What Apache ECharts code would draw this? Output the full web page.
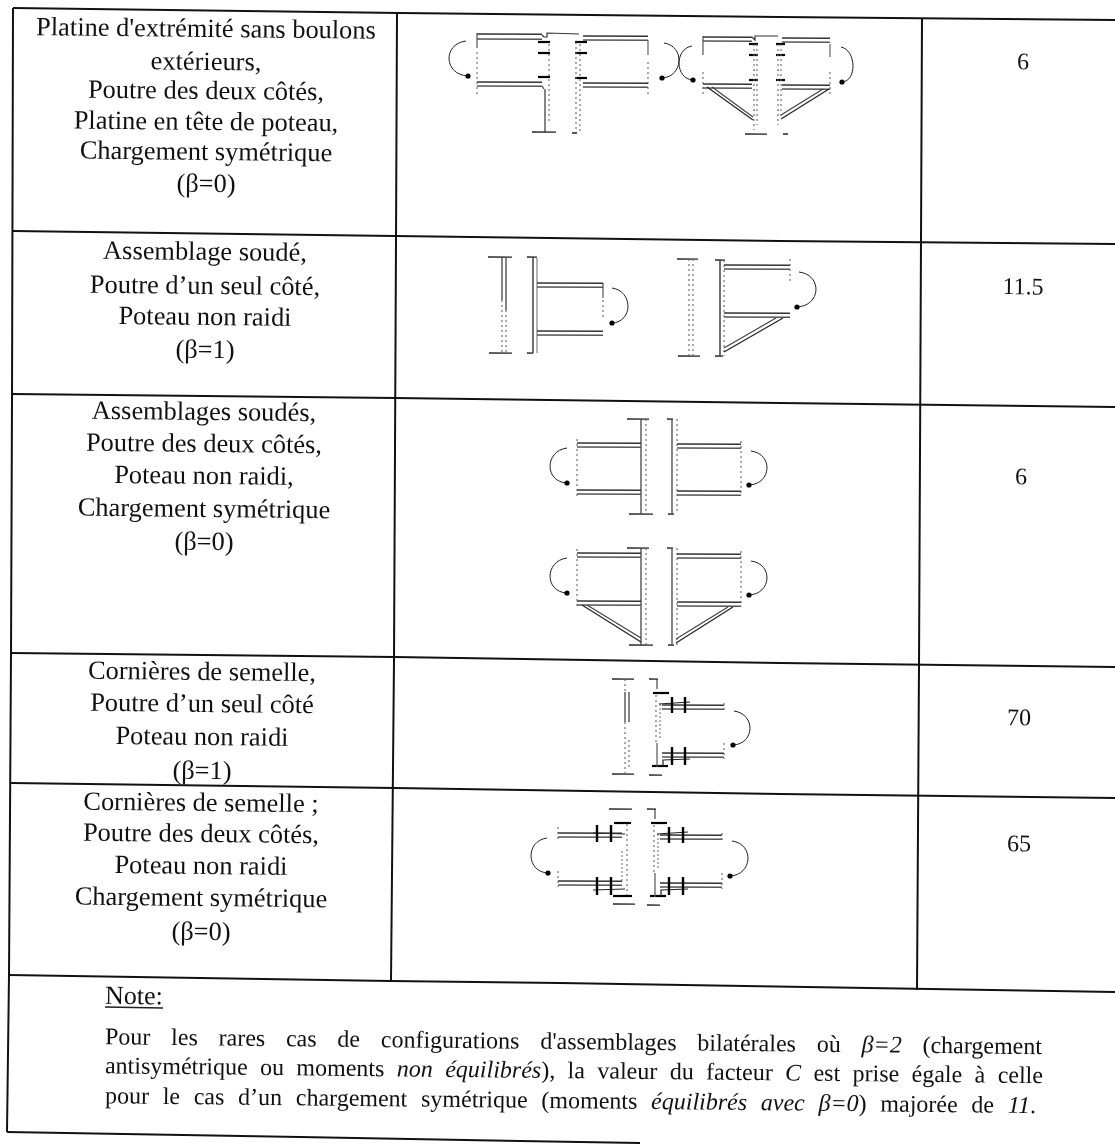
<!DOCTYPE html>
<html>
<head>
<meta charset="utf-8">
<style>html,body{margin:0;padding:0;background:#fff}#chart{width:1115px;height:1144px}</style>
<script src="https://cdn.jsdelivr.net/npm/echarts@6/dist/echarts.min.js"></script>
</head>
<body>
<div id="chart"></div>
<script>
// table content
var rowTitles = [
    ["Platine d'extrémité sans boulons", "extérieurs,", "Poutre des deux côtés,", "Platine en tête de poteau,", "Chargement symétrique", "(β=0)"],
    ["Assemblage soudé,", "Poutre d’un seul côté,", "Poteau non raidi", "(β=1)"],
    ["Assemblages soudés,", "Poutre des deux côtés,", "Poteau non raidi,", "Chargement symétrique", "(β=0)"],
    ["Cornières de semelle,", "Poutre d’un seul côté", "Poteau non raidi", "(β=1)"],
    ["Cornières de semelle ;", "Poutre des deux côtés,", "Poteau non raidi", "Chargement symétrique", "(β=0)"]
];
var factorC = ['6', '11.5', '6', '70', '65'];
var noteTitle = 'Note:';
// *...* = italique
var noteLines = [
    "Pour les rares cas de configurations d'assemblages bilatérales où *β=2* (chargement",
    "antisymétrique ou moments *non équilibrés*), la valeur du facteur *C* est prise égale à celle",
    "pour le cas d’un chargement symétrique (moments *équilibrés avec β=0*) majorée de *11*."
];

var FONT = '"Liberation Serif", serif';
var SKEW = 0.0105;
var shapes = [];
var texts = [];

// --- helpers
function line(pts, w, color, dash) {
    shapes.push({ t: 'poly', pts: pts, w: w || 1.2, c: color || '#111', dash: dash });
}
function hline(x1, x2, y, w, c, dash) { line([[x1, y], [x2, y + (x2 - x1) * SKEW * 0.4]], w, c, dash); }
function vline(x, y1, y2, w, c, dash) { line([[x, y1], [x, y2]], w, c, dash); }
function arc(p1, bulge, p2) {
    // courbe de moment + tete de fleche
    var k = 1.33;
    var cx = p1[0] + (bulge[0] - (p1[0] + p2[0]) / 2) * k;
    var c2x = p2[0] + (bulge[0] - (p1[0] + p2[0]) / 2) * k;
    shapes.push({ t: 'curve', p1: p1, c1: [cx, p1[1] + 3], c2: [c2x, p2[1] - 1], p2: p2, w: 1, c: '#222' });
    shapes.push({ t: 'dot', p: p2, r: 2.6, c: '#000' });
}
function flange(x1, x2, y) { hline(x1, x2, y, 1.3, '#222'); }
function beam(x1, x2, y1, y2) {
    hline(x1, x2, y1, 1.5, '#333');
    hline(x1, x2, y2, 1.5, '#555');
}
function broken(x, y1, y2) { vline(x, y1, y2, 1.1, '#666', [2, 3]); }
function solid(x, y1, y2) { vline(x, y1, y2, 1.3, '#444'); }
function thick(x1, x2, y) { line([[x1, y], [x2, y]], 2.2, '#000'); }
function bolt(x, y1, y2) { vline(x, y1, y2, 2.4, '#000'); }
function haunch(a, b, a2, b2) {
    line([a, b], 1.2, '#222');
    line([a2, b2], 1.2, '#444');
}

// --- traits du tableau
function tableRules() {
    var rules = [
        [[13, 8], [400, 13], [780, 17], [1115, 20]],
        [[13, 231], [395, 236], [780, 241], [1115, 244]],
        [[13, 394], [395, 398], [780, 403], [1115, 407]],
        [[11, 653], [395, 657], [780, 663], [1115, 667]],
        [[11, 783], [395, 788], [780, 794], [1115, 798]],
        [[9, 975], [390, 981], [560, 983], [1115, 992]],
        [[7, 1132], [300, 1137], [520, 1141], [640, 1143]],
        [[13, 8], [12, 400], [11, 655], [9, 975], [7, 1132]],
        [[397, 12], [396, 240], [394, 660], [391, 981]],
        [[922, 18], [921, 240], [919, 665], [917, 990]]
    ];
    rules.forEach(function (r) { line(r, 2, '#111'); });
}

// platine d'extremite, poutres des deux cotes
function drawEndPlate() {
    beam(477, 542, 34, 39);
    vline(477, 33, 48, 1.1, '#444');
    broken(477, 52, 96);
    line([[542, 35], [544, 37], [547, 37], [547, 33], [579, 34]], 1.2, '#333');
    beam(583, 648, 36, 40);
    vline(648, 40, 55, 1.1, '#555');
    broken(648, 62, 96);
    [42, 53, 77].forEach(function (y) { thick(538, 550, y); });
    [42, 53, 78].forEach(function (y) { thick(575, 587, y); });
    beam(477, 542, 82, 86);
    line([[542, 86], [544, 89]], 1.1, '#333');
    beam(583, 648, 83, 87);
    solid(545, 89, 132);
    broken(549, 44, 122);
    broken(576, 42, 133);
    broken(580, 44, 133);
    flange(532, 556, 132);
    flange(572, 577, 133);
    arc([466, 41], [449, 58], [468, 76]);
    arc([664, 43], [679, 60], [662, 78]);
    arc([692, 46], [679, 62], [693, 80]);

    beam(703, 752, 37, 41);
    vline(703, 36, 55, 1.1, '#444');
    broken(703, 72, 96);
    line([[752, 37], [755, 40], [755, 36], [778, 36]], 1.2, '#333');
    beam(782, 830, 38, 42);
    [44, 55, 80].forEach(function (y) { thick(749, 758, y); thick(776, 785, y); });
    beam(703, 752, 84, 88);
    beam(782, 830, 85, 89);
    broken(754, 44, 130);
    broken(757, 44, 125);
    broken(778, 44, 125);
    broken(781, 44, 118);
    flange(745, 767, 134);
    flange(783, 788, 134);
    haunch([707, 87], [753, 120], [712, 87], [753, 117]);
    haunch([829, 89], [781, 119], [823, 89], [781, 115]);
    vline(830, 44, 57, 1.1, '#555');
    broken(830, 72, 97);
    arc([841, 47], [853, 63], [842, 82]);
}

// assemblage soude, un seul cote
function drawWeldedOneSide() {
    flange(488, 512, 257);
    flange(489, 512, 353);
    solid(502, 257, 300);
    broken(502, 300, 353);
    solid(506, 257, 310);
    broken(506, 310, 353);
    flange(527, 537, 257);
    flange(527, 533, 353);
    vline(533, 257, 353, 1.4, '#333');
    vline(537, 258, 353, 1.1, '#777');
    beam(537, 603, 283, 287);
    vline(603, 283, 298, 1.1, '#444');
    broken(603, 300, 320);
    beam(537, 603, 331, 335);
    arc([612, 288], [628, 308], [612, 323]);

    flange(677, 698, 259);
    flange(678, 700, 356);
    broken(689, 259, 356);
    broken(693, 259, 356);
    flange(715, 725, 260);
    flange(715, 723, 356);
    vline(720, 260, 356, 1.4, '#333');
    broken(724, 260, 356);
    beam(724, 790, 265, 269);
    broken(790, 259, 282);
    beam(724, 790, 313, 317);
    haunch([783, 318], [724, 352], [776, 318], [724, 348]);
    arc([799, 272], [816, 287], [797, 307]);
}

// assemblages soudes, deux cotes (d : haut du poteau, a/b : position des semelles)
function drawWeldedTwoSides(d, a, b, withHaunch) {
    var h = withHaunch ? 97 : 95;
    flange(627, 649, d);
    flange(629, 653, d + h);
    solid(641, d, d + h);
    broken(646, d, d + h);
    flange(667, 673, d);
    flange(668, 674, d + h);
    solid(672, d, d + h);
    broken(677, d, d + h);
    beam(577, 641, d + a, d + a + 4);
    beam(677, 741, d + a + 1, d + a + 5);
    beam(577, 641, d + b, d + b + 4);
    beam(677, 741, d + b + 1, d + b + 5);
    broken(577, d + a - 4, d + b + 6);
    broken(741, d + a - 2, d + b + 6);
    if (withHaunch) {
        haunch([582, d + b + 4], [641, d + h - 3], [587, d + b + 4], [641, d + h - 7]);
        haunch([733, d + b + 6], [676, d + h - 2], [728, d + b + 6], [676, d + h - 6]);
    }
    arc([567, d + a + 5], [550, d + a + 20], [567, d + a + 40]);
    arc([751, d + a + 8], [767, d + a + 24], [749, d + a + 42]);
}

// cornieres de semelle
function drawAngleRight(xc, top, beamEnd, bolts) {
    flange(xc - 7, xc + 2, top);
    vline(xc + 1, top, top + 10, 1.1, '#333');
    thick(xc - 3, xc + 13, top + 14);
    thick(xc - 4, xc + 12, top + 87);
    flange(xc - 7, xc + 6, top + 96);
    broken(xc, top + 16, top + 64);
    vline(xc + 1, top + 64, top + 88, 1.2, '#555');
    vline(xc + 4, top + 25, top + 60, 1.1, '#777', [2, 2]);
    line([[xc + 3, top + 25], [xc + 34, top + 23]], 1.2, '#222');
    beam(xc + 6, beamEnd, top + 26, top + 30);
    beam(xc + 6, beamEnd, top + 74, top + 78);
    line([[xc + 7, top + 87], [xc + 7, top + 81], [xc + 34, top + 80]], 1.2, '#222');
    bolts.forEach(function (x) {
        bolt(x, top + 18, top + 34);
        bolt(x, top + 68, top + 86);
    });
    broken(beamEnd, top + 24, top + 34);
    broken(beamEnd, top + 64, top + 80);
}
function drawAngleLeft(xc, top, beamStart, bolts) {
    thick(xc - 14, xc + 3, top + 14);
    thick(xc - 15, xc + 4, top + 87);
    broken(xc - 1, top + 15, top + 86);
    vline(xc - 6, top + 42, top + 72, 1.1, '#777', [2, 2]);
    line([[xc - 3, top + 25], [xc - 35, top + 24]], 1.2, '#222');
    beam(beamStart, xc - 6, top + 24, top + 28);
    beam(beamStart, xc - 6, top + 72, top + 76);
    line([[xc - 3, top + 80], [xc - 35, top + 81]], 1.2, '#222');
    bolts.forEach(function (x) {
        bolt(x, top + 16, top + 33);
        bolt(x, top + 68, top + 86);
    });
    broken(beamStart, top + 18, top + 30);
    broken(beamStart, top + 62, top + 78);
}

tableRules();
drawEndPlate();
drawWeldedOneSide();
drawWeldedTwoSides(419, 24, 71, false);
drawWeldedTwoSides(548, 5, 53, true);

// ligne 4
flange(612, 634, 679);
flange(612, 634, 774);
broken(625, 679, 692);
solid(625, 692, 722);
broken(625, 722, 774);
solid(629, 692, 722);
broken(629, 740, 770);
drawAngleRight(656, 679, 724, [672, 685]);
arc([734, 711], [750, 727], [733, 745]);

// ligne 5
drawAngleLeft(628, 809, 558, [597, 611]);
arc([547, 838], [531, 853], [548, 873]);
flange(609, 632, 809);
flange(613, 635, 904);
drawAngleRight(654, 809, 722, [669, 683]);
arc([732, 841], [748, 857], [730, 876]);

// --- textes
function addText(str, x, y, size, opts) {
    opts = opts || {};
    texts.push({
        str: str, x: x, y: y, size: size,
        italic: !!opts.italic,
        align: opts.align || 'center'
    });
}
var rowLayout = [
    { x: 206, y: [30, 63, 92, 123, 153, 185] },
    { x: 205, y: [253, 287, 318, 351] },
    { x: 204, y: [413, 445, 477, 510, 543] },
    { x: 202, y: [673, 705, 738, 772] },
    { x: 201, y: [804, 835, 867, 899, 933] }
];
rowTitles.forEach(function (lines, i) {
    lines.forEach(function (s, j) {
        addText(s, rowLayout[i].x, rowLayout[i].y[j], 26.4);
    });
});
var factorPos = [[1023, 63], [1023, 288], [1021, 478], [1019, 719], [1019, 845]];
factorC.forEach(function (v, i) {
    addText(v, factorPos[i][0], factorPos[i][1], 24);
});
addText(noteTitle, 105, 997, 26, { align: 'left' });
line([[105, 1007], [163, 1008]], 1.4, '#222');

// mots de la note repartis sur la largeur (texte justifie)
var measure = document.createElement('canvas').getContext('2d');
function wordWidth(w, size, italic) {
    measure.font = (italic ? 'italic ' : '') + size + 'px ' + FONT;
    return measure.measureText(w).width;
}
function addNoteLine(src, x0, y0, x1, size) {
    var italic = false;
    var words = [];
    src.split(' ').forEach(function (w) {
        var parts = w.split('*');
        var run = [];
        parts.forEach(function (p, k) {
            if (k > 0) italic = !italic;
            if (p) run.push({ s: p, it: italic });
        });
        words.push(run);
    });
    var total = 0;
    words.forEach(function (run) {
        run.forEach(function (r) { total += wordWidth(r.s, size, r.it); });
    });
    var gap = (x1 - x0 - total) / (words.length - 1);
    var x = x0;
    words.forEach(function (run) {
        run.forEach(function (r) {
            addText(r.s, x, y0 + (x - x0) * SKEW, size, { italic: r.it, align: 'left' });
            x += wordWidth(r.s, size, r.it);
        });
        x += gap;
    });
}
addNoteLine(noteLines[0], 105, 1038, 1042, 24);
addNoteLine(noteLines[1], 105, 1067, 1043, 24);
addNoteLine(noteLines[2], 105, 1097, 1036, 24);

var chart = echarts.init(document.getElementById('chart'), null, { renderer: 'canvas' });

function renderShape(params, api) {
    var s = shapes[api.value(0)];
    var P = function (p) { return api.coord(p); };
    if (s.t === 'poly') {
        return {
            type: 'polyline',
            shape: { points: s.pts.map(P) },
            style: { stroke: s.c, lineWidth: s.w, fill: null, lineDash: s.dash || null }
        };
    }
    if (s.t === 'curve') {
        var a = P(s.p1), c1 = P(s.c1), c2 = P(s.c2), b = P(s.p2);
        return {
            type: 'bezierCurve',
            shape: { x1: a[0], y1: a[1], cpx1: c1[0], cpy1: c1[1], cpx2: c2[0], cpy2: c2[1], x2: b[0], y2: b[1] },
            style: { stroke: s.c, lineWidth: s.w, fill: null }
        };
    }
    var c = P(s.p);
    return {
        type: 'circle',
        shape: { cx: c[0], cy: c[1], r: s.r },
        style: { fill: s.c }
    };
}
function renderText(params, api) {
    var t = texts[api.value(0)];
    var c = api.coord([t.x, t.y]);
    return {
        type: 'text',
        x: c[0],
        y: c[1],
        rotation: -SKEW,
        style: {
            text: t.str,
            fill: '#111',
            font: (t.italic ? 'italic ' : '') + t.size + 'px ' + FONT,
            textAlign: t.align,
            textVerticalAlign: 'middle'
        }
    };
}

chart.setOption({
    animation: false,
    backgroundColor: '#fff',
    grid: { left: 0, right: 0, top: 0, bottom: 0 },
    xAxis: { type: 'value', min: 0, max: 1115, show: false },
    yAxis: { type: 'value', min: 0, max: 1144, inverse: true, show: false },
    series: [{
        type: 'custom',
        silent: true,
        clip: false,
        renderItem: renderShape,
        data: shapes.map(function (s, i) { return [i]; }),
        encode: { x: [], y: [] }
    }, {
        type: 'custom',
        silent: true,
        clip: false,
        renderItem: renderText,
        data: texts.map(function (t, i) { return [i]; }),
        encode: { x: [], y: [] }
    }]
});
</script>
</body>
</html>
